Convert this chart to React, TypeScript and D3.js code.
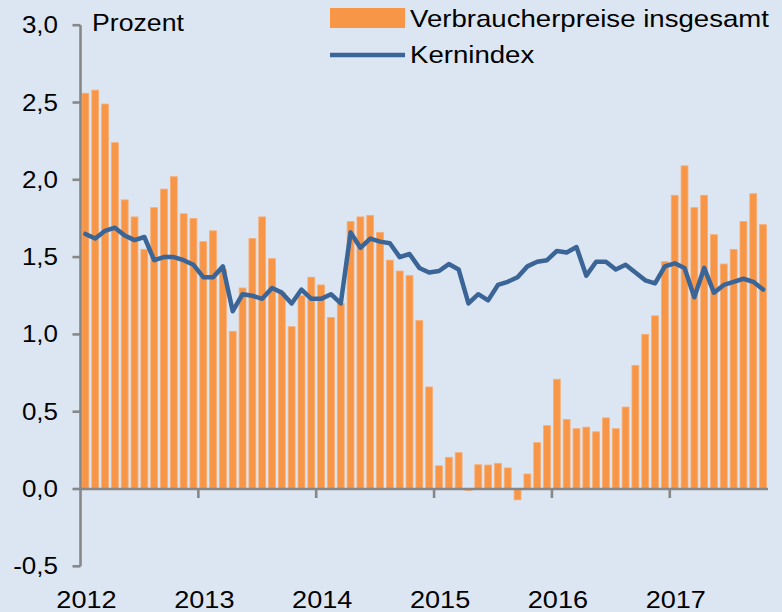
import React from 'react';
import * as d3 from 'd3';

const years = ['2012', '2013', '2014', '2015', '2016', '2017'];
const yTicks = [-0.5, 0, 0.5, 1.0, 1.5, 2.0, 2.5, 3.0];

// Verbraucherpreise insgesamt, monthly Jan 2012 – Oct 2017
const cpi = [
  2.56, 2.58, 2.49, 2.24, 1.87, 1.76, 1.55, 1.82, 1.94, 2.02, 1.78, 1.75,
  1.60, 1.67, 1.42, 1.02, 1.30, 1.62, 1.76, 1.49, 1.27, 1.05, 1.25, 1.37,
  1.32, 1.11, 1.20, 1.73, 1.76, 1.77, 1.66, 1.48, 1.41, 1.38, 1.09, 0.66,
  0.15, 0.205, 0.235, -0.01, 0.157, 0.155, 0.166, 0.136, -0.07, 0.097, 0.30, 0.41,
  0.71, 0.45, 0.39, 0.40, 0.37, 0.46, 0.39, 0.53, 0.80, 1.00, 1.12, 1.47,
  1.90, 2.09, 1.82, 1.90, 1.645, 1.455, 1.55, 1.73, 1.91, 1.71,
];

// Kernindex
const core = [
  1.65, 1.62, 1.67, 1.69, 1.64, 1.61, 1.63, 1.48, 1.50, 1.50, 1.48, 1.45,
  1.37, 1.37, 1.44, 1.15, 1.26, 1.25, 1.23, 1.30, 1.27, 1.20, 1.29, 1.23,
  1.23, 1.26, 1.20, 1.66, 1.56, 1.62, 1.60, 1.59, 1.50, 1.52, 1.43, 1.40,
  1.41, 1.455, 1.42, 1.20, 1.26, 1.22, 1.32, 1.34, 1.37, 1.44, 1.47, 1.48,
  1.54, 1.53, 1.565, 1.38, 1.47, 1.47, 1.42, 1.45, 1.40, 1.35, 1.33, 1.44,
  1.46, 1.43, 1.24, 1.43, 1.27, 1.32, 1.34, 1.36, 1.34, 1.29,
];

const W = 782;
const H = 612;
const X0 = 80.5;
const X1 = 768;
const BG = '#dce6f2';
const ORANGE = '#f79646';
const BLUE = '#3b6597';
const AXIS = '#878787';
const FONT = 'Liberation Sans, Arial, sans-serif';

export default function App() {
  const idx = cpi.map((_, i) => i);
  const x = d3.scaleBand<number>().domain(idx).range([X0, X1]).paddingInner(0.3).paddingOuter(0.15);
  const step = x.step();
  const y = d3.scaleLinear().domain([-0.5, 3.0]).range([566.3, 25.2]);
  const cx = (i: number) => (x(i) as number) + x.bandwidth() / 2;
  const line = d3
    .line<number>()
    .x((_, i) => cx(i))
    .y((d) => y(d));
  const fmt = (v: number) => v.toFixed(1).replace('.', ',');
  const yearX = (k: number) => X0 + k * 12 * step;
  const sx = 1.13;

  return (
    <svg width={W} height={H} style={{ position: 'absolute', left: 0, top: 0 }}>
      <rect x={0} y={0} width={W} height={H} fill={BG} />
      {/* bars */}
      {cpi.map((v, i) => (
        <rect
          key={i}
          x={x(i)}
          y={Math.min(y(v), y(0))}
          width={x.bandwidth()}
          height={Math.abs(y(v) - y(0))}
          fill={ORANGE}
          stroke="#f8ad74"
          strokeWidth={0.8}
        />
      ))}
      {/* axes */}
      <line x1={X0} x2={X0} y1={y(3.0)} y2={y(-0.5)} stroke={AXIS} strokeWidth={2.6} />
      {yTicks.map((t) => (
        <line key={t} x1={X0 - 8} x2={X0} y1={y(t)} y2={y(t)} stroke={AXIS} strokeWidth={2.6} />
      ))}
      <line x1={X0} x2={X1} y1={y(0)} y2={y(0)} stroke={AXIS} strokeWidth={2.6} />
      {years.map((yr, k) =>
        k > 0 ? (
          <line key={yr} x1={yearX(k)} x2={yearX(k)} y1={y(0)} y2={y(0) + 9} stroke={AXIS} strokeWidth={2.6} />
        ) : null
      )}
      {/* core line */}
      <path
        d={line(core) || ''}
        fill="none"
        stroke={BLUE}
        strokeWidth={4.5}
        strokeLinejoin="round"
        strokeLinecap="round"
      />
      {/* y labels */}
      {yTicks.map((t) => (
        <text
          key={t}
          transform={`translate(58,${y(t) + 8}) scale(${sx},1)`}
          textAnchor="end"
          fontFamily={FONT}
          fontSize={23}
          fill="#000"
        >
          {fmt(t)}
        </text>
      ))}
      {/* x labels */}
      {years.map((yr, k) => (
        <text
          key={yr}
          transform={`translate(${yearX(k) + 6},${H - 4}) scale(${sx},1)`}
          textAnchor="middle"
          fontFamily={FONT}
          fontSize={24}
          fill="#000"
        >
          {yr}
        </text>
      ))}
      <text transform={`translate(92,31) scale(1.16,1)`} fontFamily={FONT} fontSize={23} fill="#000">
        Prozent
      </text>
      {/* legend */}
      <rect x={330} y={8} width={75} height={20} fill={ORANGE} />
      <text transform={`translate(410,27) scale(1.15,1)`} fontFamily={FONT} fontSize={24} fill="#000">
        Verbraucherpreise insgesamt
      </text>
      <line x1={330} x2={405} y1={55} y2={55} stroke={BLUE} strokeWidth={4.5} />
      <text transform={`translate(410,63) scale(1.15,1)`} fontFamily={FONT} fontSize={24} fill="#000">
        Kernindex
      </text>
    </svg>
  );
}
